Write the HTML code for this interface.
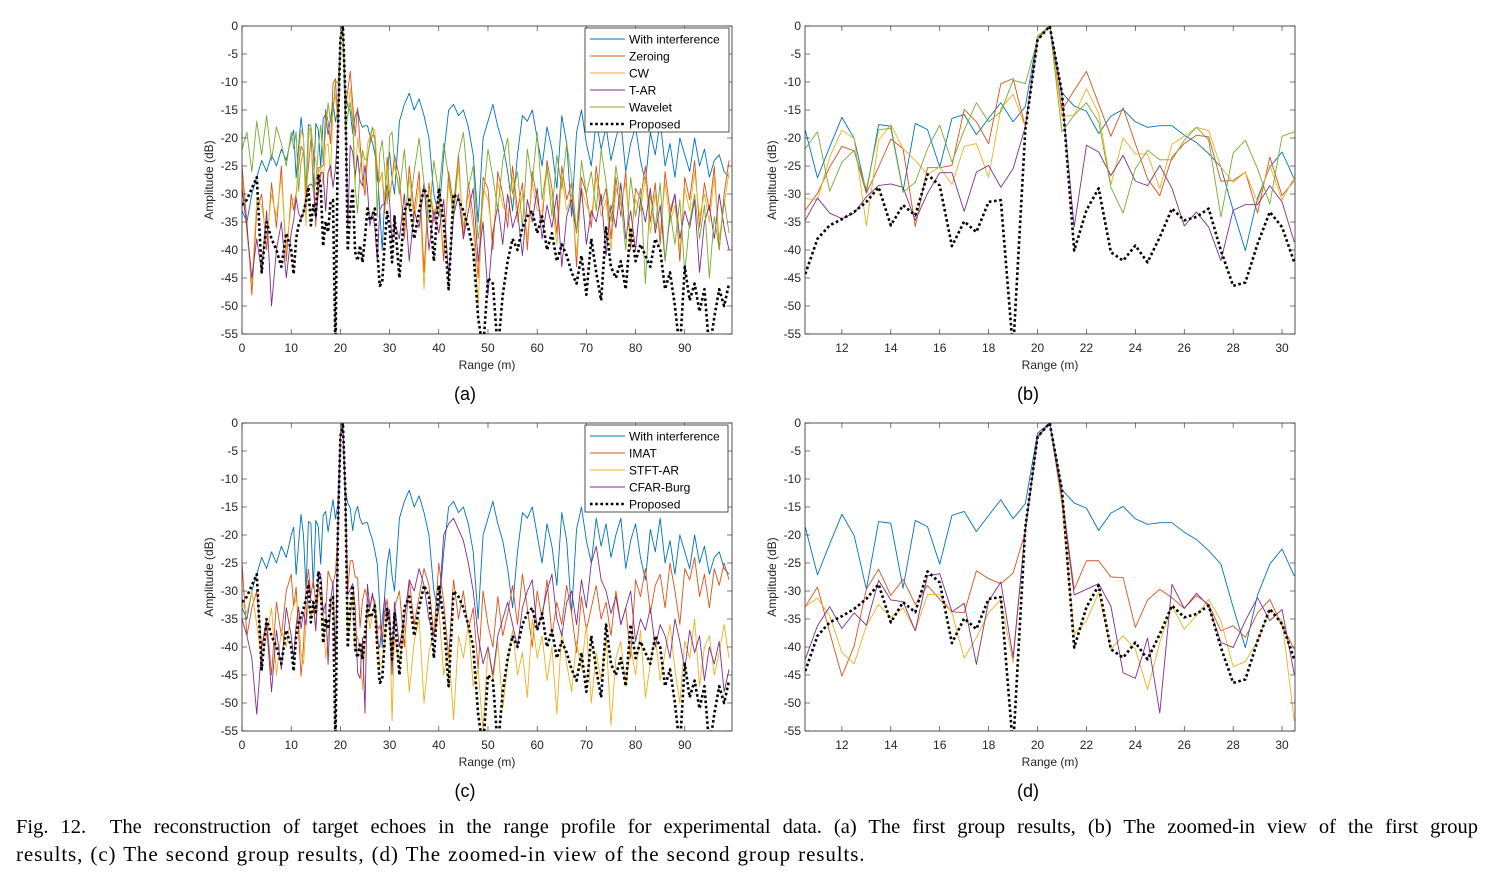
<!DOCTYPE html>
<html><head><meta charset="utf-8"><style>
html,body{margin:0;padding:0;background:#fff;}
#wrap{position:relative;width:1500px;height:872px;overflow:hidden;}
svg{position:absolute;left:0;top:0;}
svg text{font-family:"Liberation Sans",Arial,sans-serif;}
#cap{position:absolute;left:16px;top:814px;width:1462px;font-family:"Liberation Serif","Times New Roman",serif;line-height:27px;color:#000;}
#cap .l1{display:block;font-size:20.5px;text-align:justify;text-align-last:justify;}
#cap .l2{display:block;font-size:21px;letter-spacing:0.9px;word-spacing:1px;text-align:left;white-space:nowrap;}
</style></head><body>
<div id="wrap">
<svg id="fig" width="1500" height="872"></svg>
<div id="cap"><span class="l1">Fig. 12.&nbsp; The reconstruction of target echoes in the range profile for experimental data. (a) The first group results, (b) The zoomed-in view of the first group</span><span class="l2">results, (c) The second group results, (d) The zoomed-in view of the second group results.</span></div>
</div>
<script>
// ---- fine data (range 10.5 .. 30.5 step 0.5) ----
const fineX0 = 10.5, fineStep = 0.5;
const fineInterf = [-18.6,-27.1,-21.6,-16.3,-20.1,-29.7,-17.6,-17.9,-29.5,-17.4,-18.5,-25.2,-16.5,-15.8,-19.4,-16.5,-13.7,-17.1,-14.4,-1.8,0,-11.9,-14.3,-15.2,-19.2,-16.1,-14.9,-17.1,-18.1,-17.8,-17.8,-19.5,-20.8,-22.8,-25.2,-32.9,-40.1,-30.7,-25.2,-22.5,-27.3];
const fineProposed = [-44.3,-38,-35.6,-34.5,-33.2,-31.4,-28.8,-35.6,-32,-33.8,-26.5,-28.5,-39.3,-34.9,-36.8,-31.4,-31.1,-58,-18.6,-2.5,0,-12,-40.1,-32.9,-29,-40.4,-41.9,-39.2,-42.2,-37.7,-32.6,-34.7,-34.1,-32.6,-40.1,-46.4,-45.8,-38.9,-33.2,-35.9,-42.2];
const fineZeroing = [-32.9,-29.9,-25.2,-21.5,-22.3,-29.9,-25.2,-20.2,-21.9,-35.8,-25.3,-25.3,-24.9,-14.9,-17.1,-21,-10.3,-9.4,-18,-2.2,0,-15,-11.5,-8.1,-13.9,-19.7,-14.6,-21,-27.3,-30.3,-23.4,-21,-19.5,-19.8,-27.7,-27.6,-26.1,-33.4,-23.4,-30.3,-27.6];
const fineCW = [-30.8,-31.1,-23.4,-18.6,-20.1,-35.7,-20.4,-17.6,-21.9,-24,-26.5,-25.2,-28.3,-21.5,-21,-27,-14.7,-12.2,-18,-1.9,0,-16.2,-15.9,-11.2,-15.6,-28.3,-20,-22.8,-22.9,-29,-21.1,-19.7,-18.1,-18.7,-25.2,-27.9,-26.1,-31.4,-24.9,-31.1,-27];
const fineTAR = [-34.7,-30.7,-33.4,-34.4,-33.4,-30.5,-28.5,-28.2,-28.8,-34.7,-29.9,-26.2,-26.2,-33.1,-26.1,-24.9,-28.8,-25.5,-18,-2.5,0,-12.6,-35.9,-21.3,-22.5,-26.7,-23.1,-27.7,-28.5,-24.9,-29,-35.7,-33.2,-35.9,-41.9,-32.9,-31.9,-31.9,-28.5,-31.4,-38.6];
const fineWavelet = [-21.9,-18.9,-29.5,-24.3,-22.2,-29.2,-18.5,-18.3,-29.7,-27.9,-21.9,-17.7,-24.3,-18.6,-13.7,-17.1,-15.3,-9.7,-10.3,-2.5,0,-18.9,-15.9,-13.7,-17.1,-28.8,-33.4,-25.5,-22.2,-23.9,-23.9,-20.4,-18.1,-20.4,-34.1,-22.7,-20.4,-25.5,-31.8,-19.7,-18.9];
const fineIMAT = [-32.8,-29.3,-37.4,-45.2,-39.8,-29.7,-26.1,-30.8,-27.9,-32.4,-29,-31.5,-33.7,-33.9,-26.4,-27.8,-28.7,-26.8,-19.5,-2.3,0,-13,-29.7,-24.6,-24.6,-27.5,-27.6,-36.5,-31.6,-29.7,-31.2,-33.1,-30.8,-32.4,-37.1,-36.2,-38.3,-33.9,-31.5,-36.2,-40.4];
const fineSTFT = [-32.8,-31.3,-34.4,-41,-43,-36.2,-32.4,-34.7,-33,-37.1,-30.6,-30.7,-33.9,-42,-38.3,-33.9,-31.5,-42.8,-19,-2.6,0,-14.8,-37.7,-35.3,-30.3,-40.4,-38,-40.4,-47.6,-39.2,-32.7,-36.8,-34.4,-31.5,-35.3,-43.5,-42.6,-38.9,-33.3,-35.3,-53.2];
const fineCFAR = [-42.2,-36.2,-32.8,-36.7,-33.9,-36.1,-28.1,-31.6,-31.9,-37.1,-27.3,-26.9,-33.7,-32.2,-43.1,-31.8,-28.4,-41.9,-19,-2.6,0,-13.6,-30.7,-29.7,-28.7,-32.7,-44.6,-45.6,-38.4,-51.8,-28.8,-33.1,-30.4,-32.7,-39.2,-40.1,-35.3,-31.2,-35.3,-33.3,-44.9];
// ---- coarse data (range 0..10 step 1, then 31.. step 1) ----
const headX0 = 0, tailX0 = 31;
const headInterf = [-33,-35,-30,-27,-24,-26,-23,-25,-22,-24,-20];
const tailInterf = [-30,-17,-14,-12,-15,-13,-16,-20,-30,-34,-23,-15,-14,-16,-15,-18,-23,-35,-20,-17,-14,-18,-21,-26,-33,-23,-16,-17,-15,-20,-25,-18,-22,-29,-16,-21,-34,-19,-15,-21,-25,-17,-22,-18,-24,-20,-17,-26,-21,-18,-24,-28,-19,-23,-17,-25,-21,-27,-20,-23,-26,-20,-25,-22,-27,-24,-23,-26,-27];
const headProposed = [-32,-31,-29,-27,-44,-35,-38,-40,-43,-37,-40];
const tailProposed = [-34,-45,-33,-31,-38,-33,-29,-31,-42,-29,-35,-47,-30,-31,-33,-36,-40,-52,-58,-45,-46,-58,-48,-42,-38,-40,-36,-34,-33,-37,-34,-40,-37,-42,-39,-41,-44,-46,-41,-48,-38,-44,-49,-36,-43,-45,-42,-47,-36,-42,-39,-41,-43,-38,-40,-47,-44,-50,-58,-43,-49,-46,-51,-47,-58,-52,-47,-50,-46];
const headZeroing = [-25,-35,-48,-33,-30,-40,-28,-36,-25,-42,-30];
const tailZeroing = [-23,-27,-38,-25,-33,-26,-44,-28,-35,-30,-42,-26,-32,-23,-38,-28,-34,-45,-27,-29,-40,-26,-30,-36,-25,-33,-28,-40,-26,-31,-35,-24,-29,-37,-25,-31,-28,-43,-27,-30,-36,-25,-32,-29,-38,-27,-34,-26,-40,-29,-31,-25,-35,-28,-39,-26,-33,-30,-42,-27,-31,-24,-36,-28,-33,-25,-40,-30,-24];
const headCW = [-27,-37,-46,-31,-32,-38,-30,-34,-27,-40,-32];
const tailCW = [-25,-29,-36,-27,-35,-28,-47,-29,-33,-32,-40,-28,-34,-25,-36,-30,-36,-50,-29,-31,-38,-28,-32,-34,-27,-35,-30,-38,-28,-33,-33,-26,-31,-39,-27,-33,-30,-41,-29,-32,-34,-27,-34,-31,-40,-29,-32,-28,-38,-31,-33,-27,-37,-30,-37,-28,-35,-32,-40,-29,-33,-26,-34,-30,-35,-27,-38,-32,-26];
const headTAR = [-29,-36,-45,-38,-44,-33,-50,-40,-35,-45,-37];
const tailTAR = [-35,-38,-30,-42,-33,-36,-28,-40,-33,-37,-31,-45,-34,-30,-38,-33,-29,-42,-35,-48,-37,-32,-39,-30,-36,-33,-41,-31,-35,-29,-38,-32,-36,-30,-43,-34,-31,-37,-29,-39,-33,-35,-30,-41,-32,-36,-28,-38,-33,-40,-31,-35,-29,-37,-32,-42,-34,-30,-38,-33,-36,-31,-44,-35,-32,-38,-30,-36,-40];
const headWavelet = [-22,-19,-26,-17,-23,-16,-24,-18,-21,-25,-19];
const tailWavelet = [-24,-30,-22,-33,-26,-20,-28,-35,-24,-30,-21,-27,-34,-23,-19,-29,-25,-38,-31,-22,-27,-33,-24,-20,-30,-26,-36,-22,-28,-19,-31,-25,-34,-23,-29,-21,-27,-37,-24,-30,-26,-33,-22,-28,-35,-25,-31,-40,-27,-34,-29,-46,-30,-36,-28,-42,-33,-39,-31,-44,-35,-30,-38,-32,-45,-34,-40,-31,-37];
const headIMAT = [-25,-38,-33,-30,-40,-35,-45,-32,-38,-30,-27];
const tailIMAT = [-33,-30,-40,-28,-36,-31,-26,-29,-38,-25,-32,-42,-28,-35,-30,-37,-33,-44,-30,-36,-40,-31,-38,-34,-29,-36,-27,-33,-40,-30,-35,-28,-38,-32,-36,-29,-34,-41,-31,-37,-33,-29,-35,-32,-38,-30,-36,-33,-42,-28,-31,-26,-34,-29,-27,-33,-25,-30,-36,-26,-28,-24,-31,-27,-33,-26,-29,-25,-28];
const headSTFT = [-32,-34,-30,-36,-42,-38,-33,-45,-37,-40,-34];
const tailSTFT = [-38,-43,-36,-48,-39,-35,-50,-41,-37,-33,-45,-40,-53,-38,-42,-36,-47,-44,-55,-40,-46,-39,-51,-43,-37,-45,-41,-49,-35,-42,-38,-46,-40,-52,-37,-43,-48,-39,-44,-36,-50,-41,-46,-38,-54,-42,-39,-47,-40,-45,-37,-49,-43,-38,-46,-41,-36,-44,-50,-39,-42,-35,-47,-40,-38,-45,-41,-36,-42];
const headCFAR = [-35,-38,-42,-52,-40,-36,-48,-37,-44,-33,-38];
const tailCFAR = [-32,-40,-35,-28,-30,-26,-29,-35,-38,-33,-20,-18,-17,-19,-21,-25,-30,-38,-43,-40,-45,-38,-35,-32,-36,-40,-33,-30,-28,-37,-34,-30,-27,-35,-38,-32,-30,-36,-28,-33,-25,-22,-28,-30,-34,-31,-36,-33,-30,-39,-35,-37,-33,-40,-36,-38,-42,-35,-39,-44,-37,-41,-38,-46,-40,-43,-39,-48,-44];
// ---- axis tick arrays ----
const yTicks = [0,-5,-10,-15,-20,-25,-30,-35,-40,-45,-50,-55];
const fullXTicks = [0,10,20,30,40,50,60,70,80,90];
const zoomXTicks = [12,14,16,18,20,22,24,26,28,30];
const legend1 = ["With interference","Zeroing","CW","T-AR","Wavelet","Proposed"];
const legend2 = ["With interference","IMAT","STFT-AR","CFAR-Burg","Proposed"];

const C = {blue:"#0072BD",orange:"#D95319",yellow:"#EDB120",purple:"#7E2F8E",green:"#77AC30",black:"#000"};
const NS = "http://www.w3.org/2000/svg";
const svg = document.getElementById('fig');
function mk(tag, attrs, parent){const e=document.createElementNS(NS,tag);for(const k in attrs)e.setAttribute(k,attrs[k]);(parent||svg).appendChild(e);return e;}

function fullSeries(head, fine, tail){
  const pts=[];
  head.forEach((v,i)=>pts.push([headX0+i,v]));
  fine.forEach((v,i)=>pts.push([fineX0+i*fineStep,v]));
  tail.forEach((v,i)=>pts.push([tailX0+i,v]));
  return pts;
}
function fineSeries(fine){return fine.map((v,i)=>[fineX0+i*fineStep,v]);}

let clipId=0;
function axes(cfg){
  const {L,T,R,B,xmin,xmax,xticks,name,label} = cfg;
  const g = mk('g',{});
  
  
  const sx = x => L + (x-xmin)/(xmax-xmin)*(R-L);
  const sy = y => T + (0-y)/55*(B-T);
  const id='clip'+(clipId++);
  const cp=mk('clipPath',{id:id},g); mk('rect',{x:L,y:T,width:R-L,height:B-T},cp);
  const box=mk('rect',{x:L,y:T,width:R-L,height:B-T,fill:'#fff',stroke:'none'},g);
  
  
  const series=mk('g',{'clip-path':'url(#'+id+')'},g);
  cfg.series.forEach(s=>{
    const d=s.pts.map((p,i)=>(i?'L':'M')+sx(p[0]).toFixed(2)+' '+sy(p[1]).toFixed(2)).join(' ');
    const p=mk('path',{d:d,fill:'none',stroke:s.color,'stroke-width':s.dotted?2.6:0.9,'stroke-dasharray':s.dotted?'2.6 2.6':'none','stroke-linejoin':'round'},series);
    
    
  });
  const tg=mk('g',{},g);
  yTicks.forEach(v=>{
    const y=sy(v);
    mk('line',{x1:L,y1:y,x2:L+5,y2:y,stroke:'#262626','stroke-width':0.6},tg);
    mk('line',{x1:R,y1:y,x2:R-5,y2:y,stroke:'#262626','stroke-width':0.6},tg);
    const t=mk('text',{x:L-4,y:y+4,'font-size':12,'text-anchor':'end',fill:'#262626'},tg);
    t.textContent=String(v);
    
    
  });
  xticks.forEach(v=>{
    const x=sx(v);
    mk('line',{x1:x,y1:B,x2:x,y2:B-5,stroke:'#262626','stroke-width':0.6},tg);
    mk('line',{x1:x,y1:T,x2:x,y2:T+5,stroke:'#262626','stroke-width':0.6},tg);
    const t=mk('text',{x:x,y:B+18,'font-size':12,'text-anchor':'middle',fill:'#262626'},tg);
    t.textContent=String(v);
    
    
  });
  mk('rect',{x:L,y:T,width:R-L,height:B-T,fill:'none',stroke:'#262626','stroke-width':0.8},g);
  const xl=mk('text',{x:(L+R)/2,y:B+35,'font-size':12,'text-anchor':'middle',fill:'#262626'},g);
  xl.textContent='Range (m)';
  
  
  const yx=L-29, yy=(T+B)/2;
  const yl=mk('text',{x:yx,y:yy,'font-size':12,'text-anchor':'middle',fill:'#262626',transform:'rotate(-90 '+yx+' '+yy+')'},g);
  yl.textContent='Amplitude (dB)';
  
  
  const pl=mk('text',{x:(L+R)/2-22,y:B+66,'font-size':18,'text-anchor':'middle',fill:'#000'},g);
  pl.textContent=label;
  
  
  if(cfg.legend){
    const lg=cfg.legend;
    const lgG=mk('g',{},g);
    
    
    mk('rect',{x:lg.x,y:lg.y,width:lg.w,height:lg.items.length*17+2,fill:'#fff',stroke:'#262626','stroke-width':0.8},lgG);
    lg.items.forEach((name,i)=>{
      const y=lg.y+11+i*17;
      const s=cfg.series[i];
      mk('line',{x1:lg.x+5,y1:y,x2:lg.x+40,y2:y,stroke:s.color,'stroke-width':s.dotted?2.6:0.9,'stroke-dasharray':s.dotted?'2.6 2.6':'none'},lgG);
      const t=mk('text',{x:lg.x+44,y:y+4.5,'font-size':12,fill:'#000'},lgG);
      t.textContent=name;
      
      
    });
  }
}

const g1 = [
  {color:C.blue, pts:fullSeries(headInterf,fineInterf,tailInterf)},
  {color:C.orange, pts:fullSeries(headZeroing,fineZeroing,tailZeroing)},
  {color:C.yellow, pts:fullSeries(headCW,fineCW,tailCW)},
  {color:C.purple, pts:fullSeries(headTAR,fineTAR,tailTAR)},
  {color:C.green, pts:fullSeries(headWavelet,fineWavelet,tailWavelet)},
  {color:C.black, dotted:true, pts:fullSeries(headProposed,fineProposed,tailProposed)}
];
const g1z = [
  {color:C.blue, pts:fineSeries(fineInterf)},
  {color:C.orange, pts:fineSeries(fineZeroing)},
  {color:C.yellow, pts:fineSeries(fineCW)},
  {color:C.purple, pts:fineSeries(fineTAR)},
  {color:C.green, pts:fineSeries(fineWavelet)},
  {color:C.black, dotted:true, pts:fineSeries(fineProposed)}
];
const g2 = [
  {color:C.blue, pts:fullSeries(headInterf,fineInterf,tailInterf)},
  {color:C.orange, pts:fullSeries(headIMAT,fineIMAT,tailIMAT)},
  {color:C.yellow, pts:fullSeries(headSTFT,fineSTFT,tailSTFT)},
  {color:C.purple, pts:fullSeries(headCFAR,fineCFAR,tailCFAR)},
  {color:C.black, dotted:true, pts:fullSeries(headProposed,fineProposed,tailProposed)}
];
const g2z = [
  {color:C.blue, pts:fineSeries(fineInterf)},
  {color:C.orange, pts:fineSeries(fineIMAT)},
  {color:C.yellow, pts:fineSeries(fineSTFT)},
  {color:C.purple, pts:fineSeries(fineCFAR)},
  {color:C.black, dotted:true, pts:fineSeries(fineProposed)}
];
axes({L:242,T:26,R:732,B:334,xmin:0,xmax:99.6,xticks:fullXTicks,name:'chart-a',label:'(a)',series:g1,legend:{x:585,y:28,w:144,items:legend1}});
axes({L:805,T:26,R:1295,B:334,xmin:10.49,xmax:30.53,xticks:zoomXTicks,name:'chart-b',label:'(b)',series:g1z});
axes({L:242,T:423,R:732,B:731,xmin:0,xmax:99.6,xticks:fullXTicks,name:'chart-c',label:'(c)',series:g2,legend:{x:585,y:425,w:143,items:legend2}});
axes({L:805,T:423,R:1295,B:731,xmin:10.49,xmax:30.53,xticks:zoomXTicks,name:'chart-d',label:'(d)',series:g2z});
</script>
</body></html>
